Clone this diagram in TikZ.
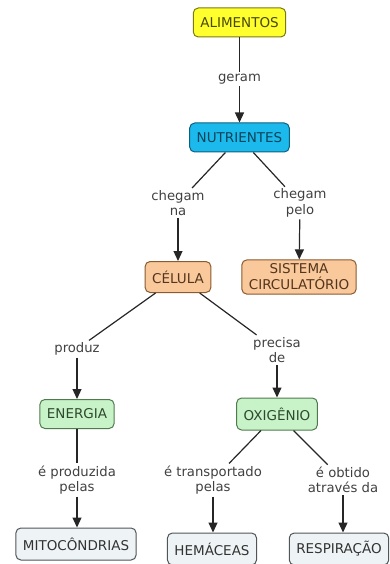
\documentclass[tikz,border=0pt]{standalone}
\usepackage{fontspec}
\setmainfont{DejaVu Sans}
\usepackage{tikz}
\usetikzlibrary{arrows.meta}
\definecolor{amarelo}{HTML}{FFFF2E}
\definecolor{amareloesc}{HTML}{7A7A10}
\definecolor{ciano}{HTML}{1CBAEC}
\definecolor{cianoesc}{HTML}{0D5F80}
\definecolor{pessego}{HTML}{F9C89B}
\definecolor{pessegoesc}{HTML}{8A5A30}
\definecolor{verde}{HTML}{C8F3C8}
\definecolor{verdeesc}{HTML}{4E7A4E}
\definecolor{cinza}{HTML}{EEF3F5}
\definecolor{cinzaesc}{HTML}{505558}

\begin{document}
\begin{tikzpicture}[x=1pt, y=-1pt,
        every node/.style={font=\fontsize{13.2}{15.5}\selectfont},
        conceito/.style={draw, rounded corners=5pt, line width=1pt,
            font=\fontsize{13.5}{16}\selectfont,
            align=center, inner xsep=7pt, inner ysep=3pt, minimum height=29pt},
        frase/.style={align=center, inner sep=2pt, text=black!75},
        liga/.style={line width=1.2pt, color=black!85},
        seta/.style={liga, -{Triangle[length=10pt, width=9pt]}}]
        \useasboundingbox (0,0) rectangle (390,564);

        % Conceitos
        \node[conceito, fill=amarelo, draw=amareloesc, text=amareloesc!60!black] (alim) at (239.5,22.5) {ALIMENTOS};
        \node[conceito, fill=ciano, draw=cianoesc, text=cianoesc!70!black] (nutr) at (239.5,137.5) {NUTRIENTES};
        \node[conceito, fill=pessego, draw=pessegoesc, text=pessegoesc!60!black, minimum height=31pt] (cel) at (178,277) {CÉLULA};
        \node[conceito, fill=pessego, draw=pessegoesc, text=pessegoesc!60!black, inner ysep=4pt] (sist) at (299,277) {SISTEMA\\CIRCULATÓRIO};
        \node[conceito, fill=verde, draw=verdeesc, text=verdeesc!60!black] (ener) at (77,414) {ENERGIA};
        \node[conceito, fill=verde, draw=verdeesc, text=verdeesc!60!black, minimum height=32pt] (oxig) at (277,414) {OXIGÊNIO};
        \node[conceito, fill=cinza, draw=cinzaesc, text=black!80, minimum height=32pt] (mito) at (76,544) {MITOCÔNDRIAS};
        \node[conceito, fill=cinza, draw=cinzaesc, text=black!80, minimum height=32pt] (hema) at (212,549) {HEMÁCEAS};
        \node[conceito, fill=cinza, draw=cinzaesc, text=black!80, minimum height=32pt] (resp) at (339,549) {RESPIRAÇÃO};

        % Frases de ligacao
        \node[frase] (geram) at (239.5,79) {geram};
        \node[frase] (chna) at (178,203) {chegam\\na};
        \node[frase] (chpelo) at (300,203) {chegam\\pelo};
        \node[frase] (prod) at (77,349) {produz};
        \node[frase] (prec) at (277,350) {precisa\\de};
        \node[frase] (eprod) at (77,480) {é produzida\\pelas};
        \node[frase] (etrans) at (213,480) {é transportado\\pelas};
        \node[frase] (eobt) at (343,480) {é obtido\\através da};

        % Ligacoes
        \draw[liga] (alim) -- (geram);
        \draw[seta] (geram) -- (nutr);
        \draw[liga] (nutr) -- (chna);
        \draw[seta] (chna) -- (cel);
        \draw[liga] (nutr) -- (chpelo);
        \draw[seta] (chpelo) -- (sist);
        \draw[liga] (cel) -- (prod);
        \draw[seta] (prod) -- (ener);
        \draw[liga] (cel) -- (prec);
        \draw[seta] (prec) -- (oxig);
        \draw[liga] (ener) -- (eprod);
        \draw[seta] (eprod.south) -- (eprod.south |- mito.north);
        \draw[liga] (oxig) -- (etrans);
        \draw[seta] (etrans.south) -- (etrans.south |- hema.north);
        \draw[liga] (oxig) -- (eobt);
        \draw[seta] (eobt.south) -- (eobt.south |- resp.north);
    \end{tikzpicture}
\end{document}
